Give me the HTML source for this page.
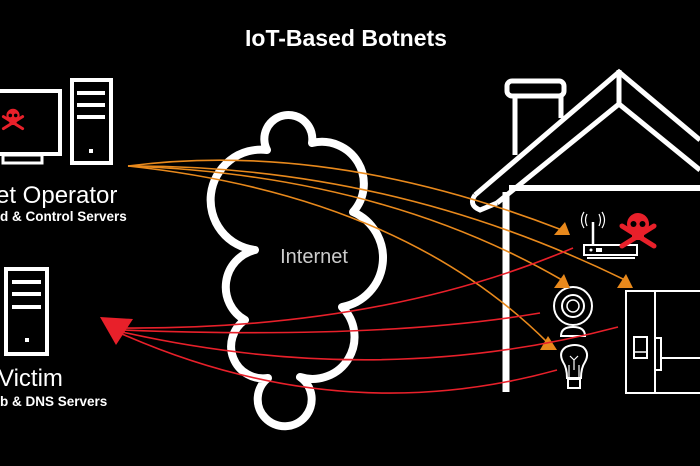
<!DOCTYPE html>
<html><head><style>
html,body{margin:0;padding:0;background:#000;}
body{width:700px;height:466px;overflow:hidden;position:relative;font-family:"Liberation Sans",sans-serif;}
</style></head><body>
<svg width="700" height="466" viewBox="0 0 700 466" xmlns="http://www.w3.org/2000/svg" style="position:absolute;left:0;top:0">
<defs>
<g id="skull">
  <line x1="-16" y1="-4" x2="16" y2="16" stroke="#e8202a" stroke-width="5" stroke-linecap="round"/>
  <line x1="16" y1="-4" x2="-16" y2="16" stroke="#e8202a" stroke-width="5" stroke-linecap="round"/>
  <circle cx="0" cy="-6" r="11" fill="#e8202a"/>
  <rect x="-6" y="2" width="12" height="8" fill="#e8202a"/>
  <circle cx="-4.5" cy="-6" r="3" fill="#000"/>
  <circle cx="4.5" cy="-6" r="3" fill="#000"/>
</g>
</defs>
<text x="346" y="46" fill="#fff" font-size="23" font-weight="bold" text-anchor="middle">IoT-Based Botnets</text>

<!-- operator -->
<rect x="-10" y="91" width="70" height="63" fill="none" stroke="#fff" stroke-width="4"/>
<rect x="3" y="155" width="39" height="8" fill="none" stroke="#fff" stroke-width="3"/>
<rect x="72" y="80" width="39" height="83" fill="none" stroke="#fff" stroke-width="4"/>
<rect x="77" y="91" width="28" height="4" fill="#fff"/>
<rect x="77" y="103" width="28" height="4" fill="#fff"/>
<rect x="77" y="115" width="28" height="4" fill="#fff"/>
<rect x="89" y="149" width="4" height="4" fill="#fff"/>
<g transform="translate(13,119) scale(0.6)"><use href="#skull"/></g>
<text x="-4" y="203" fill="#fff" font-size="24" font-weight="300">et Operator</text>
<text x="0" y="221" fill="#fff" font-size="13.5" font-weight="bold">d &amp; Control Servers</text>

<!-- victim -->
<rect x="6" y="269" width="41" height="85" fill="none" stroke="#fff" stroke-width="4"/>
<rect x="12" y="280" width="29" height="4" fill="#fff"/>
<rect x="12" y="292" width="29" height="4" fill="#fff"/>
<rect x="12" y="305" width="29" height="4" fill="#fff"/>
<rect x="25" y="338" width="4" height="4" fill="#fff"/>
<text x="-2" y="386" fill="#fff" font-size="24" font-weight="300">Victim</text>
<text x="0" y="406" fill="#fff" font-size="13.5" font-weight="bold">b &amp; DNS Servers</text>

<!-- cloud -->
<path d="M267,150 A24,24 0 1 1 312,143 A42,42 0 0 1 353,212 A50,50 0 0 1 342,307 A42,42 0 0 1 300,377 A27,27 0 1 1 268,378 A32,32 0 0 1 245,320 A38,38 0 0 1 255,250 A30,30 0 1 1 267,150 Z" fill="none" stroke="#fff" stroke-width="8" stroke-linejoin="round"/>
<text x="314" y="263" fill="#ccc" font-size="20" font-weight="300" text-anchor="middle">Internet</text>

<!-- house -->
<path d="M475,195 L619,72 L700,140" fill="none" stroke="#fff" stroke-width="5"/>
<path d="M497,203 L619,104 L700,170" fill="none" stroke="#fff" stroke-width="5"/>
<path d="M475,195 Q468,205 480,210 L497,203" fill="none" stroke="#fff" stroke-width="5"/>
<line x1="619" y1="70" x2="619" y2="104" stroke="#fff" stroke-width="5"/>
<line x1="506" y1="192" x2="506" y2="392" stroke="#fff" stroke-width="7"/>
<line x1="509" y1="188" x2="700" y2="188" stroke="#fff" stroke-width="6"/>
<rect x="507" y="81" width="57" height="15" rx="5" fill="none" stroke="#fff" stroke-width="5"/>
<line x1="515" y1="96" x2="515" y2="155" stroke="#fff" stroke-width="5"/>
<line x1="561" y1="96" x2="561" y2="118" stroke="#fff" stroke-width="5"/>

<!-- router -->
<rect x="584" y="245" width="53" height="10" fill="none" stroke="#fff" stroke-width="2"/>
<line x1="587" y1="258" x2="635" y2="258" stroke="#fff" stroke-width="2"/>
<line x1="593" y1="222" x2="593" y2="245" stroke="#fff" stroke-width="2.5"/>
<circle cx="591" cy="250" r="1.5" fill="#fff"/>
<rect x="596" y="248" width="6" height="4" fill="#fff"/>
<path d="M587,214 Q584,220 587,226 M599,214 Q602,220 599,226 M584,212 Q579,220 584,228 M602,212 Q607,220 602,228" fill="none" stroke="#fff" stroke-width="1.2"/>
<g transform="translate(638,230)"><use href="#skull"/></g>

<!-- webcam -->
<circle cx="573" cy="306" r="19" fill="none" stroke="#fff" stroke-width="2"/>
<circle cx="573" cy="306" r="11" fill="none" stroke="#fff" stroke-width="2"/>
<circle cx="573" cy="306" r="6" fill="none" stroke="#fff" stroke-width="1.5"/>
<path d="M561,336 Q561,327 573,327 Q585,327 585,336 Z" fill="none" stroke="#fff" stroke-width="2"/>

<!-- bulb -->
<path d="M567,378 Q567,368 563,362 Q558,352 566,347 Q575,343 583,347 Q590,353 585,362 Q581,368 581,378 Z" fill="none" stroke="#fff" stroke-width="2"/>
<path d="M569,378 L569,365 M579,378 L579,365 M574,370 L574,360 L570,356 M574,360 L578,356" fill="none" stroke="#fff" stroke-width="1.2"/>
<rect x="568" y="379" width="12" height="9" fill="none" stroke="#fff" stroke-width="2"/>

<!-- fridge -->
<rect x="626" y="291" width="80" height="102" fill="none" stroke="#fff" stroke-width="2"/>
<line x1="655" y1="291" x2="655" y2="393" stroke="#fff" stroke-width="2"/>
<rect x="634" y="337" width="13" height="21" fill="none" stroke="#fff" stroke-width="2"/>
<line x1="634" y1="352" x2="647" y2="352" stroke="#fff" stroke-width="1.5"/>
<rect x="655" y="338" width="6" height="32" fill="none" stroke="#fff" stroke-width="2"/>
<line x1="661" y1="358" x2="700" y2="358" stroke="#fff" stroke-width="2"/>

<!-- orange lines -->
<g fill="none" stroke="#e8891c" stroke-width="1.6">
<path d="M128,166 Q330,140 562,230"/>
<path d="M128,166 Q390,165 625,280"/>
<path d="M128,166 Q380,175 562,280"/>
<path d="M128,166 Q400,195 548,343"/>
</g>
<g fill="#e8891c">
<polygon points="554,235 570,235 565,222"/>
<polygon points="554,288 570,288 564,274"/>
<polygon points="617,288 633,288 626,274"/>
<polygon points="540,350 557,350 548,336"/>
</g>

<!-- red lines -->
<g fill="none" stroke="#e8202a" stroke-width="1.6">
<path d="M122,328 Q380,330 573,248"/>
<path d="M122,330 Q380,340 540,313"/>
<path d="M122,332 Q380,390 618,327"/>
<path d="M122,334 Q340,430 557,370"/>
</g>
<polygon points="100,317 133,319 116,345" fill="#e8202a"/>
</svg>
</body></html>
